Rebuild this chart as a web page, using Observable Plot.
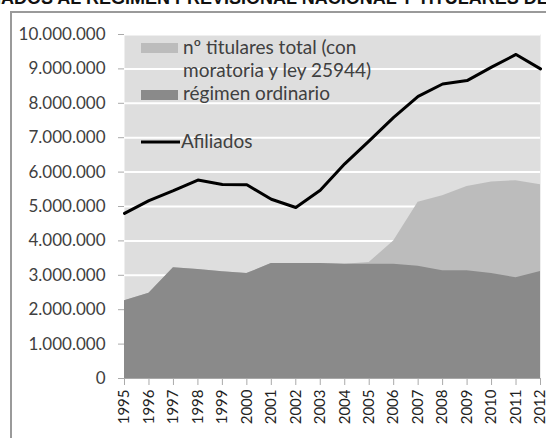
<!DOCTYPE html>
<html>
<head>
<meta charset="utf-8">
<script src="https://cdn.jsdelivr.net/npm/d3@7"></script>
<script src="https://cdn.jsdelivr.net/npm/@observablehq/plot@0.6"></script>
<style>
  html, body { margin: 0; padding: 0; background: #fff; }
  #chart { position: relative; width: 546px; height: 438px; overflow: hidden; }
</style>
</head>
<body>
<div id="chart"></div>
<script>
const years = [1995, 1996, 1997, 1998, 1999, 2000, 2001, 2002, 2003, 2004, 2005, 2006, 2007, 2008, 2009, 2010, 2011, 2012];
const afiliados = [4800000, 5170000, 5460000, 5770000, 5640000, 5630000, 5210000, 4970000, 5470000, 6240000, 6910000, 7590000, 8200000, 8560000, 8660000, 9050000, 9420000, 9000000];
const ordinario = [2260000, 2480000, 3220000, 3170000, 3100000, 3050000, 3340000, 3340000, 3340000, 3320000, 3320000, 3320000, 3260000, 3130000, 3130000, 3050000, 2930000, 3110000];
const total = [2260000, 2480000, 3220000, 3170000, 3100000, 3050000, 3340000, 3340000, 3340000, 3320000, 3370000, 4000000, 5120000, 5310000, 5580000, 5710000, 5750000, 5630000];
const yTicks = [0, 1000000, 2000000, 3000000, 4000000, 5000000, 6000000, 7000000, 8000000, 9000000, 10000000];
const titleText = "AFILIADOS AL RÉGIMEN PREVISIONAL NACIONAL Y TITULARES DE BENEFICIOS";
const legendLabels = ["nº titulares total (con", "moratoria y ley 25944)", "régimen ordinario", "Afiliados"];

const data = years.map((year, i) => ({year, afiliados: afiliados[i], ordinario: ordinario[i], total: total[i]}));
const fmt = d => d3.format(",")(d).replace(/,/g, ".");

const colBg = "#dedede", colTotal = "#bcbcbc", colOrd = "#8a8a8a", colText = "#404040";

const plot = Plot.plot({
  width: 546,
  height: 438,
  marginLeft: 124,
  marginRight: 6,
  marginTop: 34,
  marginBottom: 60,
  style: {fontFamily: "Lato", fontSize: "16px", color: colText, background: "transparent", overflow: "visible"},
  x: {domain: [1995, 2012], ticks: years, tickFormat: d => String(d), label: null},
  y: {domain: [0, 10000000], ticks: yTicks, tickFormat: fmt, label: null},
  marks: [
    Plot.frame({fill: colBg, stroke: null}),
    Plot.gridY(yTicks.filter(d => d > 0), {stroke: "#ffffff", strokeOpacity: 1, strokeWidth: 2}),
    Plot.areaY(data, {x: "year", y: "total", fill: colTotal}),
    Plot.areaY(data, {x: "year", y: "ordinario", fill: colOrd}),
    Plot.lineY(data, {x: "year", y: "afiliados", stroke: "#000", strokeWidth: 3, strokeLinejoin: "round"}),
    Plot.ruleY([0], {stroke: "#a8a8a8", strokeWidth: 1}),
    Plot.axisY({ticks: yTicks, tickFormat: fmt, tickSize: 6, tickPadding: 13, stroke: "#aaaaaa", fill: colText, fontSize: 17, label: null}),
    Plot.axisX({ticks: years, tickFormat: d => String(d), tickRotate: -90, tickSize: 7, tickPadding: 4, stroke: "#aaaaaa", fill: "#222", fontSize: 15, label: null})
  ]
});

document.getElementById("chart").appendChild(plot);
const svg = d3.select(plot);
// outer frame of the embedded figure
svg.append("path").attr("d", "M11,438V12H546").attr("fill", "none").attr("stroke", "#9a9a9a").attr("stroke-width", 2);
// title, cropped at the top and sides (only "...ADOS AL ... DE..." shows)
const tSize = 18;
const title = svg.append("text").attr("x", 0).attr("y", 3.5).attr("text-anchor", "start")
  .attr("font-family", "Liberation Sans").attr("font-weight", "bold").attr("font-size", tSize).attr("fill", "#111")
  .text(titleText);
const probe = svg.append("text").attr("font-family", "Liberation Sans").attr("font-weight", "bold").attr("font-size", tSize).text("AFILI");
const pre = probe.node().getComputedTextLength();
probe.remove();
title.attr("x", 1 - pre);

// legend
const lg = svg.append("g").attr("font-family", "Lato").attr("font-size", 19).attr("fill", colText).attr("text-anchor", "start");
lg.append("rect").attr("x", 141).attr("y", 43).attr("width", 37).attr("height", 10).attr("fill", colTotal);
lg.append("text").attr("x", 183).attr("y", 54).text(legendLabels[0]);
lg.append("text").attr("x", 183).attr("y", 77).text(legendLabels[1]);
lg.append("rect").attr("x", 141).attr("y", 90).attr("width", 37).attr("height", 10).attr("fill", colOrd);
lg.append("text").attr("x", 183).attr("y", 100).text(legendLabels[2]);
lg.append("line").attr("x1", 141).attr("x2", 180).attr("y1", 142).attr("y2", 142).attr("stroke", "#000").attr("stroke-width", 3);
lg.append("text").attr("x", 181).attr("y", 148).text(legendLabels[3]);
</script>
</body>
</html>
